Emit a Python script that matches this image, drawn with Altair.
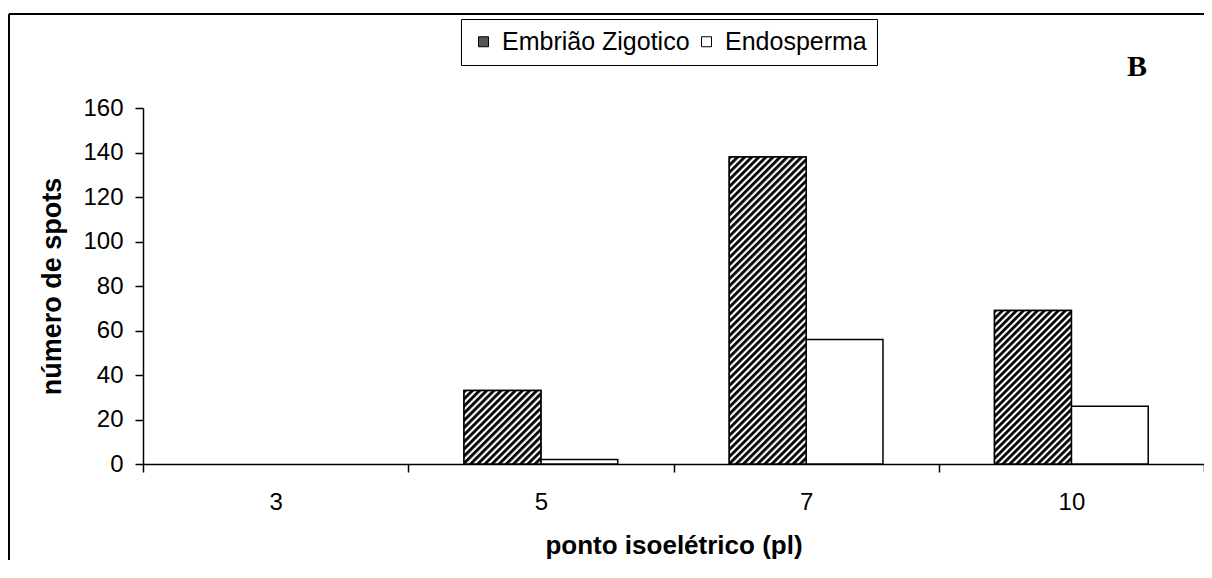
import math
import altair as alt
import pandas as pd

# ---- data ----
categories = ["3", "5", "7", "10"]
embriao = [0, 33, 138, 69]
endosperma = [0, 2, 56, 26]
series = ["Embrião Zigotico", "Endosperma"]
y_ticks = [0, 20, 40, 60, 80, 100, 120, 140, 160]

# ---- layout / style ----
W, H = 1061, 356
YMAX = 160
PAD_OUTER = 0.7256
FONT = "Liberation Sans"

rows = []
for c, a, b in zip(categories, embriao, endosperma):
    rows.append({"pI": c, "serie": series[0], "n": a})
    rows.append({"pI": c, "serie": series[1], "n": b})
df = pd.DataFrame(rows)

x_enc = alt.X(
    "pI:N", sort=categories,
    scale=alt.Scale(domain=categories, paddingInner=0, paddingOuter=0),
    axis=alt.Axis(title="ponto isoelétrico (pl)", labelAngle=0, tickBand="extent",
                  labelPadding=18, titlePadding=18, tickSize=8, titleFontSize=26),
)
xo_enc = alt.XOffset("serie:N", sort=series,
                     scale=alt.Scale(domain=series, paddingInner=0, paddingOuter=PAD_OUTER))
y_enc = alt.Y(
    "n:Q", scale=alt.Scale(domain=[0, YMAX], nice=False),
    axis=alt.Axis(title="número de spots", values=y_ticks, labelPadding=12,
                  titlePadding=16, tickSize=8, titleFontSize=27),
)

base = alt.Chart(df).transform_filter("datum.n > 0").mark_bar(
    stroke="black", strokeWidth=1.5
).encode(
    x=x_enc, xOffset=xo_enc, y=y_enc,
    fill=alt.Fill("serie:N", sort=series,
                  scale=alt.Scale(domain=series, range=["#555555", "#ffffff"]),
                  legend=alt.Legend(title=None, orient="none", legendX=318, legendY=-89,
                                    direction="horizontal", padding=10,
                                    strokeColor="black", fillColor="white",
                                    symbolType="square", symbolSize=100,
                                    symbolStrokeColor="black", symbolStrokeWidth=1,
                                    labelFont=FONT, labelFontSize=25, labelColor="black",
                                    labelLimit=0, labelOffset=6, columnPadding=4)),
)

# hatched overlay (upward diagonal stripes) for the Embrião bars
bar_w = (W / len(categories)) / (2 + 2 * PAD_OUTER)
period = 5.0
hatch_layers = []
for c, v in zip(categories, embriao):
    if v <= 0:
        continue
    h = v * H / YMAX
    k = (bar_w + h) / (bar_w ** 2 + h ** 2)
    dx, dy = bar_w * k, h * k
    L = (bar_w + h) / math.sqrt(2)
    n = max(1, int(round(L / period)))
    pattern = [(0.0, "#000000"), (0.35, "#111111"), (0.6, "#ffffff"), (0.8, "#f4f4f4")]
    stops = []
    for i in range(n):
        for off, col in pattern:
            stops.append({"offset": round(min(1.0, (i + off) / n), 6), "color": col})
    stops.append({"offset": 1.0, "color": "#000000"})
    grad = {"gradient": "linear", "x1": 0, "y1": 0, "x2": dx, "y2": dy, "stops": stops}
    layer = alt.Chart(df).transform_filter(
        f"datum.pI == '{c}' && datum.serie == '{series[0]}'"
    ).mark_bar(fill=grad, stroke="black", strokeWidth=1.5).encode(
        x=x_enc, xOffset=xo_enc, y=y_enc
    )
    hatch_layers.append(layer)

one = pd.DataFrame({"t": ["B"]})
label_b = alt.Chart(one).mark_text(
    font="Liberation Serif", fontSize=30, fontWeight="bold",
    align="center", baseline="middle", color="black"
).encode(x=alt.value(994), y=alt.value(-41), text="t:N")

border_top = alt.Chart(one).mark_rule(color="black", strokeWidth=2).encode(
    x=alt.value(-134), x2=alt.value(W), y=alt.value(-94)
)
border_left = alt.Chart(one).mark_rule(color="black", strokeWidth=2).encode(
    x=alt.value(-134), y=alt.value(-94), y2=alt.value(H + 96)
)

chart = alt.layer(base, *hatch_layers, label_b, border_top, border_left).properties(
    width=W, height=H,
    autosize=alt.AutoSizeParams(type="none"),
    padding={"left": 135, "top": 100, "right": 0, "bottom": 96},
    background="white",
).configure_view(stroke=None).configure_axis(
    grid=False, domainColor="black", domainWidth=1.5, tickColor="black", tickWidth=1.5,
    labelFont=FONT, labelFontSize=24, labelColor="black",
    titleFont=FONT, titleFontWeight="bold", titleColor="black",
)

chart.save("out.html", embed_options={"renderer": "svg", "actions": False})
